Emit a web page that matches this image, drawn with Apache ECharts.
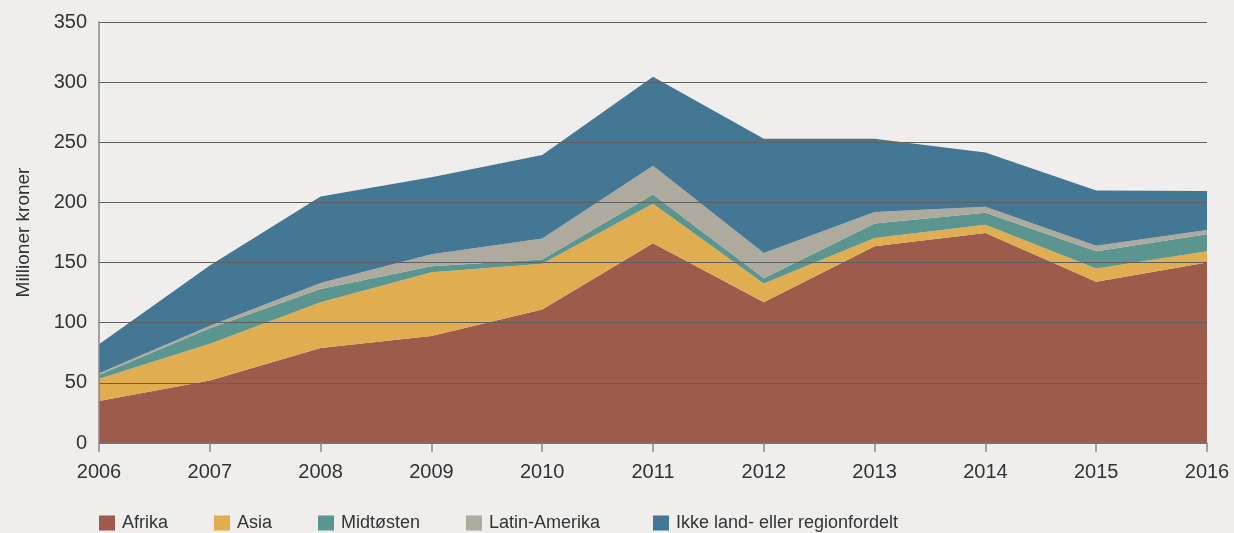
<!DOCTYPE html>
<html>
<head>
<meta charset="utf-8">
<script src="https://cdn.jsdelivr.net/npm/echarts@6/dist/echarts.min.js"></script>
<style>
  html, body { margin: 0; padding: 0; background: #efeeec; }
  #chart { width: 1234px; height: 533px; }
</style>
</head>
<body>
<div id="chart"></div>
<script>
// År
const years = ['2006', '2007', '2008', '2009', '2010', '2011', '2012', '2013', '2014', '2015', '2016'];

// Millioner kroner per region (stablet)
const afrika = [35, 52, 79, 89, 111, 166, 117, 163.5, 174.5, 134, 150];
const asia = [18.5, 30.5, 38, 53, 38, 33, 15.5, 7, 7, 11, 9.5];
const midtosten = [3, 13, 11, 5, 3.5, 7.5, 4.5, 12, 10, 14.5, 14];
const latinAmerika = [1.5, 2, 5, 10, 17.5, 24, 21, 9.5, 5, 4.5, 3.5];
const ikkeFordelt = [24, 50, 72, 64, 69.5, 74, 95, 61, 45, 46, 32.5];

const names = ['Afrika', 'Asia', 'Midtøsten', 'Latin-Amerika', 'Ikke land- eller regionfordelt'];
const colors = ['#9c5b4b', '#e0ae50', '#5a9590', '#afaa9e', '#437793'];
const values = [afrika, asia, midtosten, latinAmerika, ikkeFordelt];

const font = '"Liberation Sans", Arial, sans-serif';
const legendLeft = [99, 214, 318, 466, 653];

const chart = echarts.init(document.getElementById('chart'));

const option = {
  backgroundColor: '#efeeec',
  animation: false,
  textStyle: { fontFamily: font },
  grid: { left: 99, right: 27, top: 22, bottom: 90 },
  legend: names.map((n, i) => ({
    data: [n],
    left: legendLeft[i],
    top: 514,
    padding: 0,
    itemWidth: 16,
    itemHeight: 15,
    icon: 'rect',
    itemGap: 0,
    textStyle: { fontSize: 18, color: '#333', fontFamily: font, padding: [0, 0, 0, 2] }
  })),
  xAxis: {
    type: 'category',
    data: years,
    boundaryGap: false,
    axisLine: { lineStyle: { color: '#777', width: 1.5 } },
    axisTick: { length: 9, lineStyle: { color: '#888', width: 1.5 } },
    axisLabel: { fontSize: 20, color: '#333', margin: 19, fontFamily: font },
    z: 5
  },
  yAxis: {
    type: 'value',
    min: 0,
    max: 350,
    interval: 50,
    name: 'Millioner kroner',
    nameLocation: 'middle',
    nameGap: 66,
    nameTextStyle: { fontSize: 19, color: '#333', fontFamily: font },
    axisLine: { show: true, lineStyle: { color: '#888', width: 1.5 } },
    axisTick: { show: false },
    axisLabel: { fontSize: 20, color: '#333', margin: 12, fontFamily: font },
    splitLine: { lineStyle: { color: '#5f5f5f', width: 1.2 } },
    z: 5
  },
  series: names.map((n, i) => ({
    name: n,
    type: 'line',
    stack: 'total',
    data: values[i],
    showSymbol: false,
    lineStyle: { width: 0 },
    areaStyle: { color: colors[i], opacity: 1 },
    itemStyle: { color: colors[i] },
    z: 1
  }))
};

chart.setOption(option);
</script>
</body>
</html>
